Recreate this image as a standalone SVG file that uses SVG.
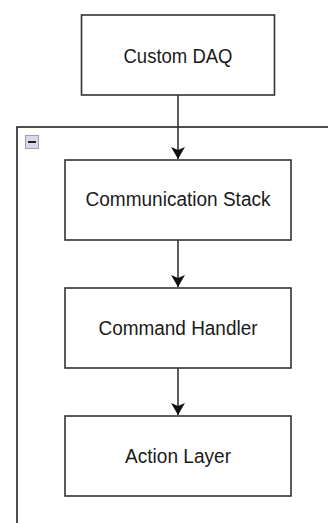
<svg xmlns="http://www.w3.org/2000/svg" width="328" height="523" viewBox="0 0 328 523">
<style>
.box{fill:#fff;stroke:#333;stroke-width:1.6}
.lbl{font-family:"Liberation Sans",Arial,sans-serif;font-size:20px;fill:#1a1a1a;text-anchor:middle}
.edge{stroke:#333;stroke-width:1.6;fill:none}
</style>
<defs>
<marker id="arr" viewBox="0 0 12 14" refX="12" refY="7" markerWidth="12" markerHeight="14" markerUnits="userSpaceOnUse" orient="auto">
<path d="M0,0 L12,7 L0,14 L3,7 Z" fill="#111"/>
</marker>
</defs>
<rect width="328" height="523" fill="#fff"/>
<g id="container">
<rect x="17" y="127" width="330" height="420" fill="none" stroke="#222" stroke-width="1.6"/>
<rect x="25.5" y="135.5" width="13" height="13" fill="#d8d8e6" stroke="#9a9ab8" stroke-width="1"/>
<line x1="28" y1="142" x2="36" y2="142" stroke="#222" stroke-width="2"/>
</g>
<g id="connectors">
<line class="edge" x1="178" y1="95" x2="178" y2="159" marker-end="url(#arr)"/>
<line class="edge" x1="178" y1="240" x2="178" y2="287" marker-end="url(#arr)"/>
<line class="edge" x1="178" y1="368" x2="178" y2="415" marker-end="url(#arr)"/>
</g>
<g id="custom-daq">
<rect class="box" x="81.5" y="15" width="193" height="80"/>
<text class="lbl" x="178" y="62.5" textLength="109" lengthAdjust="spacingAndGlyphs">Custom DAQ</text>
</g>
<g id="communication-stack">
<rect class="box" x="65" y="160" width="226" height="80"/>
<text class="lbl" x="178" y="206" textLength="185" lengthAdjust="spacingAndGlyphs">Communication Stack</text>
</g>
<g id="command-handler">
<rect class="box" x="65" y="288" width="226" height="80"/>
<text class="lbl" x="178" y="334.5" textLength="159" lengthAdjust="spacingAndGlyphs">Command Handler</text>
</g>
<g id="action-layer">
<rect class="box" x="65" y="416" width="226" height="80"/>
<text class="lbl" x="178" y="462.5" textLength="106" lengthAdjust="spacingAndGlyphs">Action Layer</text>
</g>
</svg>
